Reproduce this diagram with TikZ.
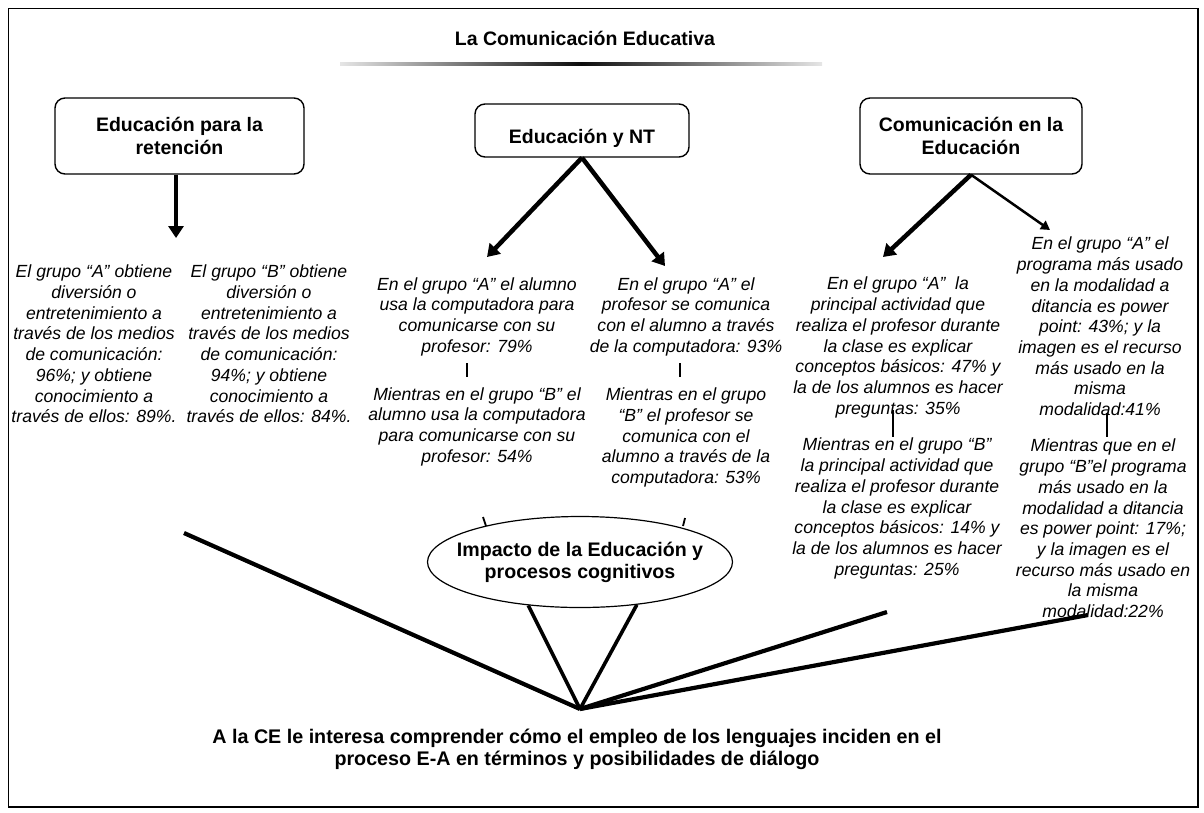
\documentclass[tikz,border=0pt]{standalone}
\usepackage{fontspec}
\setmainfont{Liberation Sans}
\usetikzlibrary{arrows.meta,shapes.geometric}
\begin{document}
\begin{tikzpicture}[x=1pt,y=-1pt,
  boxnode/.style={draw, line width=1.4pt, rounded corners=10pt, align=center,
    font=\fontsize{19.5}{23}\selectfont\bfseries, inner sep=0pt},
  coltext/.style={align=center, font=\fontsize{17.6}{20.7}\selectfont\itshape, inner sep=0pt},
  boldtext/.style={align=center, font=\fontsize{19.6}{22}\selectfont\bfseries, inner sep=0pt},
  bigarrow/.style={line width=4.5pt, -{Triangle[width=15pt,length=12pt]}},
  thinarrow/.style={line width=2.5pt, -{Triangle[width=10pt,length=9pt]}},
  thickline/.style={line width=4.2pt},
  medline/.style={line width=3.6pt},
  sepline/.style={line width=1.2pt},
]
\useasboundingbox (0,0) rectangle (1204,812);
\draw[line width=1.5pt] (8.5,8.5) rectangle (1198,807);

% title
\node[boldtext, font=\fontsize{19.5}{23}\selectfont\bfseries] (title) at (585,38) {La Comunicación Educativa};
\shade[left color=black!10, right color=black!95] (340,62.5) rectangle (581,65.5);
\shade[left color=black!95, right color=black!10] (581,62.5) rectangle (822,65.5);

% boxes
\node[boxnode, minimum width=249pt, minimum height=76pt] (b1) at (179.5,136) {Educación para la\\retención};
\node[boxnode, minimum width=214pt, minimum height=53pt, text height=29pt, text depth=4pt] (b2) at (582,130.5) {Educación y NT};
\node[boxnode, minimum width=222pt, minimum height=76pt] (b3) at (971,136) {Comunicación en la\\Educación};

% column texts
\node[coltext] (cA) at (94,344) {El grupo “A” obtiene\\diversión o\\entretenimiento a\\través de los medios\\de comunicación:\\96\%; y obtiene\\conocimiento a\\través de ellos: 89\%.};
\node[coltext] (cB) at (269,344) {El grupo “B” obtiene\\diversión o\\entretenimiento a\\través de los medios\\de comunicación:\\94\%; y obtiene\\conocimiento a\\través de ellos: 84\%.};

\node[coltext] (cCt) at (477,316.5) {En el grupo “A” el alumno\\usa la computadora para\\comunicarse con su\\profesor: 79\%};
\node[coltext] (cCb) at (477,426.5) {Mientras en el grupo “B” el\\alumno usa la computadora\\para comunicarse con su\\profesor: 54\%};

\node[coltext] (cDt) at (686,316.5) {En el grupo “A” el\\profesor se comunica\\con el alumno a través\\de la computadora: 93\%};
\node[coltext] (cDb) at (686,437.5) {Mientras en el grupo\\“B” el profesor se\\comunica con el\\alumno a través de la\\computadora: 53\%};

\node[coltext] (cEt) at (898,347.5) {En el grupo “A”\ \ la\\principal actividad que\\realiza el profesor durante\\la clase es explicar\\conceptos básicos: 47\% y\\la de los alumnos es hacer\\preguntas: 35\%};
\node[coltext] (cEb) at (897,508.5) {Mientras en el grupo “B”\\la principal actividad que\\realiza el profesor durante\\la clase es explicar\\conceptos básicos: 14\% y\\la de los alumnos es hacer\\preguntas: 25\%};

\node[coltext] (cFt) at (1100,326.5) {En el grupo “A” el\\programa más usado\\en la modalidad a\\ditancia es power\\point: 43\%; y la\\imagen es el recurso\\más usado en la\\misma\\modalidad:41\%};
\node[coltext] (cFb) at (1103,528.5) {Mientras que en el\\grupo “B”el programa\\más usado en la\\modalidad a ditancia\\es power point: 17\%;\\y la imagen es el\\recurso más usado en\\la misma\\modalidad:22\%};

% ellipse
\node[ellipse, draw, line width=1.2pt, minimum width=305pt, minimum height=91pt, inner sep=0pt] (el) at (580,562) {};
\node[boldtext] (eltext) at (el.center) {Impacto de la Educación y\\procesos cognitivos};

% bottom text
\node[boldtext, font=\fontsize{19.7}{22}\selectfont\bfseries] (bottom) at (577,749) {A la CE le interesa comprender cómo el empleo de los lenguajes inciden en el\\proceso E-A en términos y posibilidades de diálogo};

% arrows from boxes
\coordinate (t1) at (176,238);
\draw[bigarrow] (b1.south -| t1) -- (t1);
\coordinate (t2a) at (487,257);
\coordinate (t2b) at (665,266);
\draw[bigarrow] (b2.south) -- (t2a);
\draw[bigarrow] (b2.south) -- (t2b);
\coordinate (t3a) at (883,257);
\coordinate (t3b) at (1050,230);
\draw[bigarrow] (b3.south) -- (t3a);
\draw[thinarrow] (b3.south) -- (t3b);

% separators
\coordinate (s1a) at (467,363); \coordinate (s1b) at (467,377);
\coordinate (s2a) at (680,363); \coordinate (s2b) at (680,377);
\coordinate (s3a) at (893,410); \coordinate (s3b) at (893,437);
\coordinate (s4a) at (1107,413); \coordinate (s4b) at (1107,437);
\draw[sepline] (s1a) -- (s1b);
\draw[sepline] (s2a) -- (s2b);
\draw[sepline] (s3a) -- (s3b);
\draw[sepline] (s4a) -- (s4b);

% ticks on ellipse top
\coordinate (k1a) at (483,517); \coordinate (k1b) at (486,526);
\coordinate (k2a) at (685,518); \coordinate (k2b) at (683,526);
\draw[line width=1.8pt] (k1a) -- (k1b);
\draw[line width=1.8pt] (k2a) -- (k2b);

% converging lines
\coordinate (cv) at (580,709);
\coordinate (ls) at (184,533);
\coordinate (r1) at (887,612);
\coordinate (r2) at (1088,615);
\draw[thickline] (ls) -- (cv);
\draw[medline] (el.220) -- (cv);
\draw[medline] (el.323) -- (cv);
\draw[thickline] (cv) -- (r1);
\draw[thickline] (cv) -- (r2);
\end{tikzpicture}
\end{document}
